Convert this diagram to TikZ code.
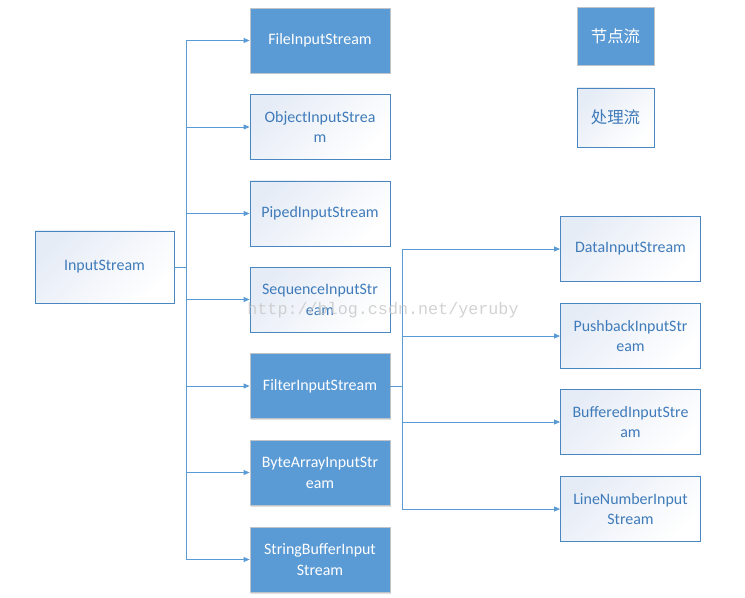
\documentclass[tikz,border=0pt]{standalone}
\usepackage{fontspec}
\setmainfont{Carlito}
\newfontfamily\cjk{Noto Sans CJK SC}
\newfontfamily\wmfont{Liberation Mono}
\usetikzlibrary{arrows.meta,shadows}
\definecolor{accblue}{HTML}{5B9BD5}
\definecolor{bordblue}{HTML}{4A86C0}
\definecolor{txtblue}{HTML}{3F7BBA}
\definecolor{tint}{HTML}{E6ECF6}
\definecolor{sgray}{HTML}{BFC4CA}
\tikzset{
  filledbox/.style={draw=sgray, line width=0.8bp, fill=accblue, text=white,
    minimum width=140bp, minimum height=65bp, align=center, inner sep=2bp,
    font=\fontsize{16}{21}\selectfont, anchor=center,
    drop shadow={shadow xshift=1bp, shadow yshift=-1.5bp, fill=black!25, opacity=0.5}},
  plainbox/.style={draw=bordblue, line width=0.8bp, top color=tint, bottom color=white,
    shading angle=45, text=txtblue,
    minimum width=140bp, minimum height=65bp, align=center, inner sep=2bp,
    font=\fontsize{16}{21}\selectfont, anchor=center},
  link/.style={draw=accblue, line width=0.8bp},
  arr/.style={link, -{Triangle[length=6bp,width=5bp]}}
}
\begin{document}
\begin{tikzpicture}[x=1bp,y=-1bp]
\useasboundingbox (0,0) rectangle (745,598);
% source
\node[plainbox, minimum width=139bp, minimum height=72bp] (is) at (104.5,267) {InputStream};
% left column
\node[filledbox] (file) at (320,40.5) {FileInputStream};
\node[plainbox] (obj) at (320,127) {ObjectInputStrea\\m};
\node[plainbox] (pipe) at (320,213.5) {PipedInputStream};
\node[plainbox] (seq) at (320,299.5) {SequenceInputStr\\eam};
\node[filledbox] (filt) at (320,386) {FilterInputStream};
\node[filledbox] (byte) at (320,472.5) {ByteArrayInputStr\\eam};
\node[filledbox] (sbuf) at (320,559.5) {StringBufferInput\\Stream};
% right column
\node[plainbox] (data) at (630.5,249) {DataInputStream};
\node[plainbox] (push) at (630.5,336) {PushbackInputStr\\eam};
\node[plainbox] (buf) at (630.5,422) {BufferedInputStre\\am};
\node[plainbox] (line) at (630.5,509) {LineNumberInput\\Stream};
% legend
\node[filledbox, minimum width=77bp, minimum height=58bp, font=\cjk\fontsize{16.5}{20}\selectfont] (leg1) at (615.5,36) {节点流};
\node[plainbox, minimum width=77bp, minimum height=59bp, font=\cjk\fontsize{16.5}{20}\selectfont] (leg2) at (615.5,117.5) {处理流};
% trunk 1
\coordinate (t1) at (186,267);
\coordinate (t1top) at (186,40.5);
\coordinate (t1bot) at (186,559.5);
\draw[link] (is.east) -- (t1);
\draw[link] (t1top) -- (t1bot);
\foreach \n in {file,obj,pipe,seq,filt,byte,sbuf}
  \draw[arr] (t1 |- \n.west) -- (\n.west);
% trunk 2
\coordinate (t2) at (402,386);
\coordinate (t2top) at (402,249);
\coordinate (t2bot) at (402,509);
\draw[link] (filt.east) -- (t2);
\draw[link] (t2top) -- (t2bot);
\foreach \n in {data,push,buf,line}
  \draw[arr] (t2 |- \n.west) -- (\n.west);
% watermark
\node[text=black!22, opacity=0.8, font=\wmfont\fontsize{16.8}{18}\selectfont, inner sep=0] (wm) at (383,310) {http://blog.csdn.net/yeruby};
\end{tikzpicture}
\end{document}
